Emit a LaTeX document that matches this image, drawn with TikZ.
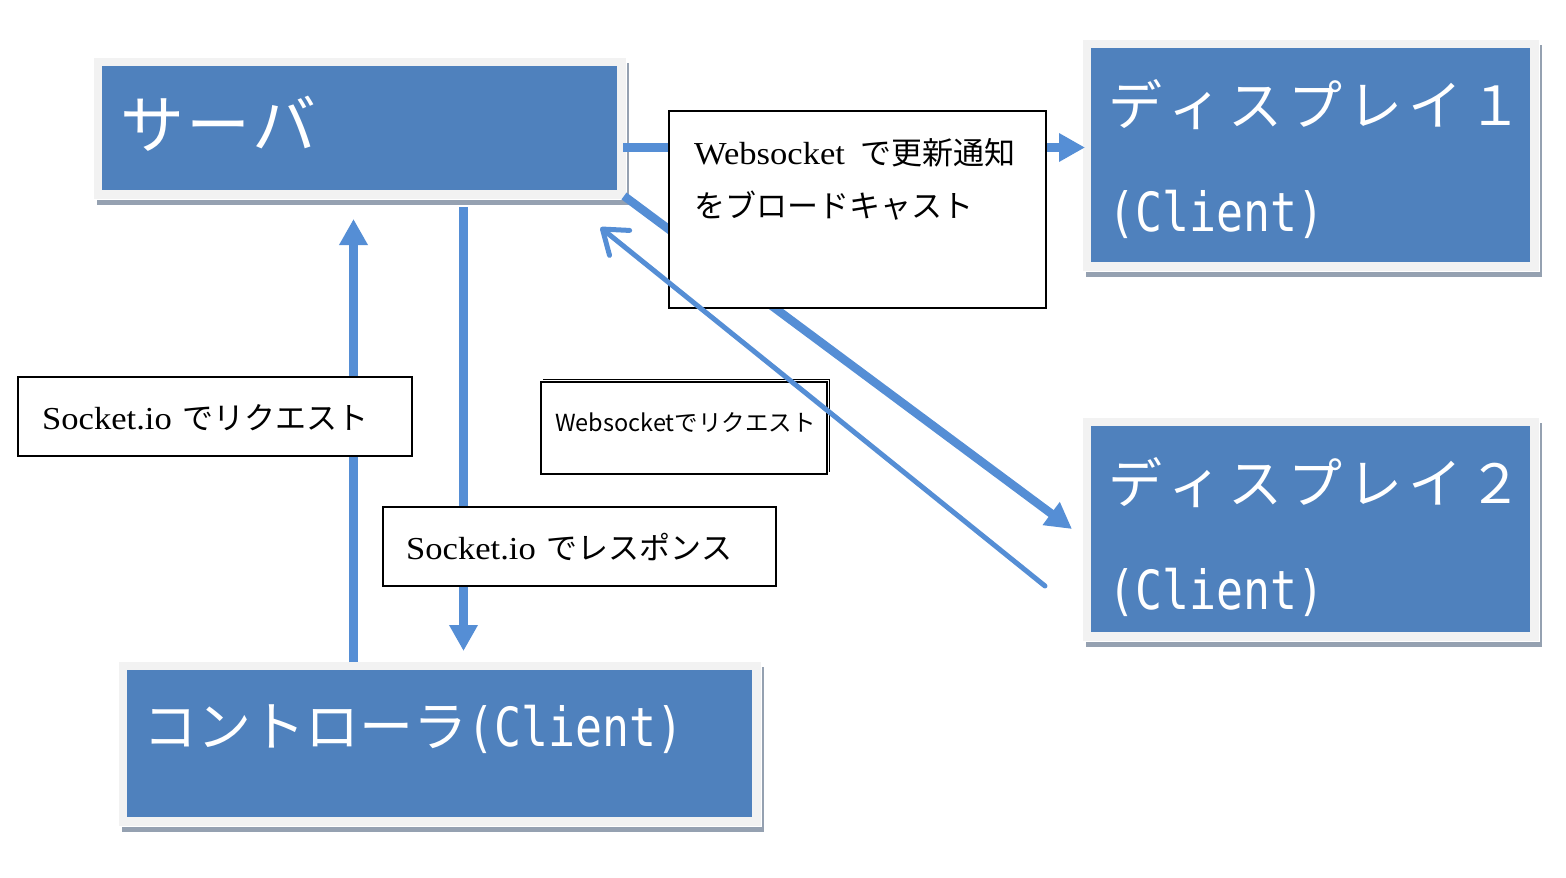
\documentclass[tikz,border=0pt]{standalone}
\usepackage{fontspec}
\usepackage{graphicx}
\newfontfamily\jp{Noto Sans CJK JP}
\newfontfamily\jmono{DejaVu Sans Mono}
\newfontfamily\lser{Liberation Serif}
\usetikzlibrary{arrows.meta,backgrounds}
\definecolor{boxblue}{HTML}{4F81BD}
\definecolor{framegrey}{HTML}{F2F2F2}
\definecolor{shadowgrey}{HTML}{95A1B1}
\definecolor{arrowblue}{HTML}{558ED5}
\newcommand\cc[2]{\makebox[#1pt][c]{#2}}
\newcommand\clientword{\scalebox{0.83}[1]{\jmono(Client)}}
\newcommand\wide[1]{\scalebox{1.08}[1]{\lser\fontsize{32}{32}\selectfont #1}}
\begin{document}
\begin{tikzpicture}[x=1pt,y=-1pt,
  blueblock/.style={fill=boxblue, draw=none, inner sep=0pt, outer sep=0pt, anchor=north west},
  whitetext/.style={text=white, inner sep=0pt, anchor=base west},
  labelbox/.style={draw=black, line width=1.8pt, fill=white, inner sep=0pt, outer sep=0pt, anchor=north west},
  labeltext/.style={text=black, inner sep=0pt, anchor=base west, font=\jp\fontsize{31}{31}\selectfont},
  thickarrow/.style={draw=arrowblue, line width=8.5pt, -{Triangle[length=26pt,width=27pt]}},
  thinarrow/.style={draw=arrowblue, line width=5pt, line cap=round, -{Straight Barb[length=22pt,width=32pt,round]}}
]
\useasboundingbox (0,0) rectangle (1566,878);

% blue blocks
\node[blueblock, minimum width=515pt, minimum height=124pt] (server) at (102,66) {};
\node[blueblock, minimum width=439pt, minimum height=214pt] (disp1) at (1091,48) {};
\node[blueblock, minimum width=439pt, minimum height=206pt] (disp2) at (1091,426) {};
\node[blueblock, minimum width=625pt, minimum height=147pt] (ctrl) at (127,670) {};

\begin{scope}[on background layer]
\foreach \n in {server,disp1,disp2,ctrl} {
  \fill[shadowgrey] ([shift={(-5.5,-3.5)}]\n.north west) rectangle ([shift={(11.5,14.5)}]\n.south east);
  \fill[white] ([shift={(-7.5,-7)}]\n.north west) rectangle ([shift={(9.5,10)}]\n.south east);
  \fill[framegrey] ([shift={(-8.5,-8.5)}]\n.north west) rectangle ([shift={(8.5,8.5)}]\n.south east);
}
\end{scope}

% block texts
\node[whitetext, font=\jp\fontsize{64}{64}\selectfont] (servertxt) at (119,148)
  {\cc{66}{サ}\cc{66}{ー}\cc{66}{バ}};
\node[whitetext, font=\jp\fontsize{54}{54}\selectfont] (d1a) at (1105,125)
  {\cc{60}{デ}\cc{60}{ィ}\cc{60}{ス}\cc{60}{プ}\cc{60}{レ}\cc{60}{イ}\cc{60}{１}};
\node[whitetext, font=\fontsize{54}{54}\selectfont] (d1b) at (1108,231) {\clientword};
\node[whitetext, font=\jp\fontsize{54}{54}\selectfont] (d2a) at (1105,503)
  {\cc{60}{デ}\cc{60}{ィ}\cc{60}{ス}\cc{60}{プ}\cc{60}{レ}\cc{60}{イ}\cc{60}{２}};
\node[whitetext, font=\fontsize{54}{54}\selectfont] (d2b) at (1108,609) {\clientword};
\node[whitetext, font=\jp\fontsize{54}{54}\selectfont] (ctrltxt) at (143,746)
  {\cc{54}{コ}\cc{54}{ン}\cc{54}{ト}\cc{54}{ロ}\cc{54}{ー}\cc{54}{ラ}\clientword};

% connectors under the label boxes
\draw[thickarrow] ([shift={(6,19.5)}]server.east) -- ([shift={(-6,-7.5)}]disp1.west);
\draw[thickarrow] ([shift={(7,6)}]server.south east) -- ([shift={(-19,0)}]disp2.west);
\draw[thickarrow] ([shift={(226.5,-8)}]ctrl.north west) -- ([shift={(251.5,29)}]server.south west);
\draw[thickarrow] ([shift={(361.5,17)}]server.south west) -- ([shift={(336.5,-19)}]ctrl.north west);

% label boxes
\node[labelbox, minimum width=377pt, minimum height=197pt] (bcast) at (669,111) {};
\node[labeltext] (bcast1) at (694,164) {\wide{Websocket}\hspace{16pt}で更新通知};
\node[labeltext] (bcast2) at (694,217) {をブロードキャスト};

\node[labelbox, minimum width=394pt, minimum height=79pt] (req) at (18,377) {};
\node[labeltext] (reqtxt) at (42,429) {\wide{Socket.io}\hspace{11pt}でリクエスト};

\node[labelbox, minimum width=393pt, minimum height=79pt] (resp) at (383,507) {};
\node[labeltext] (resptxt) at (406,559) {\wide{Socket.io}\hspace{11pt}でレスポンス};

\node[labelbox, line width=1.5pt, minimum width=286pt, minimum height=92pt] (wsreq) at (541,382) {};
\draw[line width=1.5pt] ([shift={(2,-2.5)}]wsreq.north west) -- ([shift={(2.5,-2.5)}]wsreq.north east) -- ([shift={(2.5,-2)}]wsreq.south east);
\node[labeltext, font=\jp\fontsize{23.5}{23.5}\selectfont] (wsreqtxt) at (555,431) {Websocketでリクエスト};

% connector on top
\draw[thinarrow] ([shift={(-46,57)}]disp2.west) -- ([shift={(-16.5,37.5)}]server.south east);
\end{tikzpicture}
\end{document}
